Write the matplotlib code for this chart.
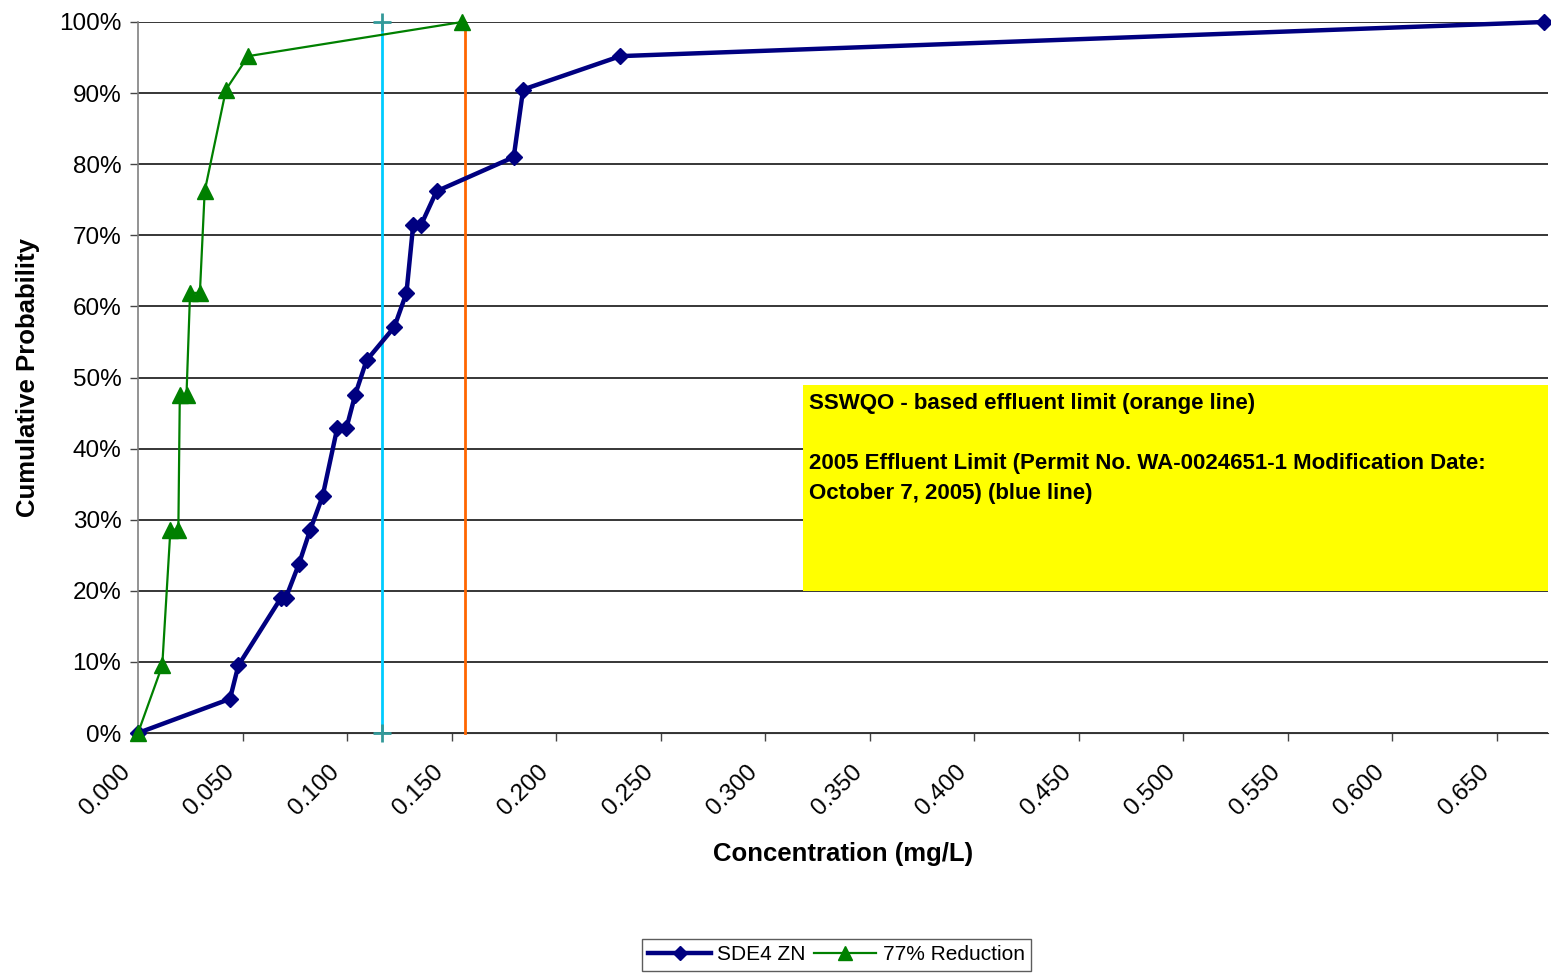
import matplotlib
matplotlib.use("Agg")
import matplotlib.pyplot as plt
from matplotlib.ticker import FuncFormatter
from matplotlib.patches import Rectangle
from matplotlib.transforms import ScaledTranslation

plt.rcParams['font.family'] = ['Liberation Sans', 'DejaVu Sans']

# data
sde4_x = [0.000, 0.044, 0.048, 0.0684, 0.0707, 0.077, 0.0824, 0.0883, 0.0953, 0.0997,
          0.1039, 0.1093, 0.1226, 0.1284, 0.1316, 0.1353, 0.1428, 0.1797, 0.1842,
          0.2307, 0.6726]
sde4_y = [0.0, 4.8, 9.5, 19.0, 19.0, 23.8, 28.6, 33.3, 42.9, 42.9,
          47.6, 52.4, 57.1, 61.9, 71.4, 71.4, 76.2, 81.0, 90.5,
          95.2, 100.0]

red77_x = [0.000, 0.0116, 0.0155, 0.0193, 0.0200, 0.0232, 0.0249, 0.0296,
           0.0319, 0.0421, 0.0527, 0.155]
red77_y = [0.0, 9.5, 28.6, 28.6, 47.6, 47.6, 61.9, 61.9,
           76.2, 90.5, 95.2, 100.0]

limit_2005 = 0.1166   # blue (cyan) line
sswqo_limit = 0.1565  # orange line

x_ticks = [0.00, 0.05, 0.10, 0.15, 0.20, 0.25, 0.30, 0.35, 0.40, 0.45, 0.50, 0.55, 0.60, 0.65]
y_ticks = [0, 10, 20, 30, 40, 50, 60, 70, 80, 90, 100]

note = ("SSWQO - based effluent limit (orange line)\n\n"
        "2005 Effluent Limit (Permit No. WA-0024651-1 Modification Date:\n"
        "October 7, 2005) (blue line)")

fig = plt.figure(figsize=(15.51, 9.77), dpi=100)
ax = fig.add_axes([138 / 1551, 1 - 733 / 977, 1410 / 1551, 711 / 977])

ax.set_xlim(0, 0.6744)
ax.set_ylim(0, 100)

# gridlines
ax.set_yticks(y_ticks)
ax.yaxis.grid(True, color='black', linewidth=1.1)
ax.set_axisbelow(True)

# note box
ax.add_patch(Rectangle((0.4716, 0.20), 0.5284, 0.29, transform=ax.transAxes,
                       facecolor='#FFFF00', edgecolor='none', zorder=1.5))
ax.text(0.4759, 0.478, note, transform=ax.transAxes, ha='left', va='top',
        fontsize=16, fontweight='bold', linespacing=1.55, zorder=2)

# limit lines
ax.plot([limit_2005, limit_2005], [0, 100], color='#00CCFF', linewidth=2,
        marker='+', markersize=13, markeredgewidth=2, markeredgecolor='#339999',
        clip_on=False, zorder=3)
ax.plot([sswqo_limit, sswqo_limit], [0, 100], color='#FF6600', linewidth=2,
        clip_on=False, zorder=3)

ax.plot(sde4_x, sde4_y, color='#000080', linewidth=3.2, marker='D', markersize=8,
        label='SDE4 ZN', clip_on=False, zorder=4)
ax.plot(red77_x, red77_y, color='#008000', linewidth=1.6, marker='^', markersize=11,
        label='77% Reduction', clip_on=False, zorder=5)

ax.set_xticks(x_ticks)
ax.xaxis.set_major_formatter(FuncFormatter(lambda v, p: f"{v:.3f}"))
ax.yaxis.set_major_formatter(FuncFormatter(lambda v, p: f"{v:.0f}%"))

ax.tick_params(axis='both', labelsize=17.5, length=6, width=1, color='#444444')
ax.tick_params(axis='y', pad=6)
ax.tick_params(axis='x', pad=14)
shift = ScaledTranslation(-0.19, 0, fig.dpi_scale_trans)
for lbl in ax.get_xticklabels():
    lbl.set_rotation(45)
    lbl.set_ha('right')
    lbl.set_va('top')
    lbl.set_rotation_mode('anchor')
    lbl.set_transform(lbl.get_transform() + shift)

for side in ['top', 'right']:
    ax.spines[side].set_visible(False)
ax.spines['left'].set_color('#808080')
ax.spines['left'].set_linewidth(1.2)
ax.spines['bottom'].set_color('#333333')

ax.set_xlabel('Concentration (mg/L)', fontsize=18.5, fontweight='bold', labelpad=16)
ax.set_ylabel('Cumulative Probability', fontsize=18.5, fontweight='bold', labelpad=14)

leg = fig.legend(loc='center', bbox_to_anchor=(836.5 / 1551, 1 - 955 / 977), ncol=2,
                 fontsize=15, frameon=True, fancybox=False, edgecolor='#333333',
                 handlelength=3, handletextpad=0.3, columnspacing=0.4,
                 borderpad=0.3, markerscale=0.9)
leg.get_frame().set_linewidth(1)

fig.savefig('out.png', dpi=100)
